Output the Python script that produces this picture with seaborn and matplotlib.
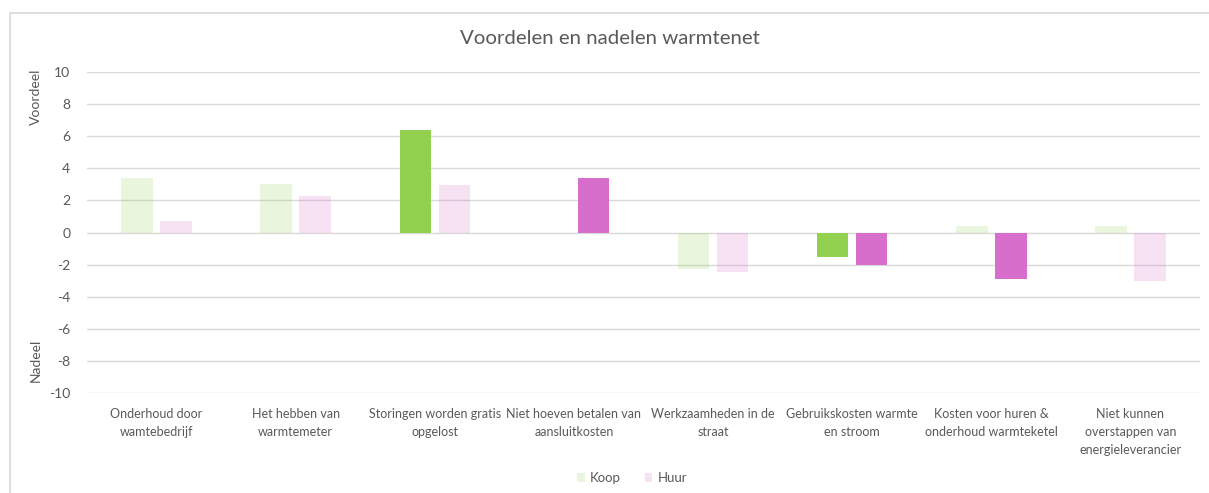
import numpy as np
import pandas as pd
import matplotlib
matplotlib.use("Agg")
import matplotlib.pyplot as plt
from matplotlib.patches import Patch
from matplotlib.lines import Line2D
import seaborn as sns

# ---- data ----
categories = [
    "Onderhoud door wamtebedrijf",
    "Het hebben van warmtemeter",
    "Storingen worden gratis opgelost",
    "Niet hoeven betalen van aansluitkosten",
    "Werkzaamheden in de straat",
    "Gebruikskosten warmte en stroom",
    "Kosten voor huren & onderhoud warmteketel",
    "Niet kunnen overstappen van energieleverancier",
]
tick_labels = [
    "Onderhoud door\nwamtebedrijf",
    "Het hebben van\nwarmtemeter",
    "Storingen worden gratis\nopgelost",
    "Niet hoeven betalen van\naansluitkosten",
    "Werkzaamheden in de\nstraat",
    "Gebruikskosten warmte\nen stroom",
    "Kosten voor huren &\nonderhoud warmteketel",
    "Niet kunnen\noverstappen van\nenergieleverancier",
]
koop = [3.4, 3.0, 6.4, 0.0, -2.3, -1.55, 0.4, 0.4]
huur = [0.7, 2.3, 2.95, 3.4, -2.45, -2.0, -2.9, -3.05]
koop_highlight = [False, False, True, False, False, True, False, False]
huur_highlight = [False, False, False, True, False, True, True, False]
series = ["Koop", "Huur"]
y_ticks = [-10, -8, -6, -4, -2, 0, 2, 4, 6, 8, 10]

title = "Voordelen en nadelen warmtenet"

# ---- styling ----
GREEN = "#92D050"
PINK = "#D86ECC"
FADE = 0.2
TXT = "#595959"
GRID = "#D9D9D9"

sns.set_theme(style="white")
plt.rcParams["font.family"] = ["Lato", "DejaVu Sans"]

df = pd.DataFrame({
    "cat": categories * 2,
    "val": koop + huur,
    "series": [series[0]] * len(categories) + [series[1]] * len(categories),
})

fig = plt.figure(figsize=(12.09, 4.93), dpi=100)
ax = fig.add_axes([87 / 1209, 1 - 393 / 493, (1200 - 87) / 1209, (393 - 72) / 493])

sns.barplot(data=df, x="cat", y="val", hue="series", hue_order=series,
            order=categories, palette=[GREEN, PINK], width=0.56, gap=0.19,
            errorbar=None, ax=ax, legend=False, zorder=3, linewidth=0)

for cont, col, hl in zip(ax.containers, [GREEN, PINK], [koop_highlight, huur_highlight]):
    for bar, h in zip(cont, hl):
        bar.set_facecolor(col)
        bar.set_alpha(1.0 if h else FADE)
        bar.set_edgecolor("none")

ax.set_ylim(-10, 10)
ax.set_yticks(y_ticks)
ax.set_yticklabels([str(t) for t in y_ticks])
ax.set_xlim(-0.5, len(categories) - 0.5)
ax.set_xticks(range(len(categories)))
ax.set_xticklabels(tick_labels)
ax.set_xlabel("")
ax.set_ylabel("")
for s in ax.spines.values():
    s.set_visible(False)
ax.grid(False)
for t in y_ticks:
    ax.axhline(t, color=GRID, lw=1.0, zorder=1)
ax.tick_params(axis="y", length=0, pad=12, labelsize=10, labelcolor=TXT)
ax.tick_params(axis="x", length=0, pad=11, labelsize=9, labelcolor=TXT)
for lab in ax.get_xticklabels():
    lab.set_linespacing(1.6)
    lab.set_verticalalignment("top")

fig.text(610 / 1209, 1 - 38 / 493, title, ha="center", va="center",
         fontsize=14.7, color=TXT)
fig.text(36 / 1209, 1 - 97 / 493, "Voordeel", rotation=90, ha="center",
         va="center", fontsize=10, color=TXT)
fig.text(36 / 1209, 1 - 360 / 493, "Nadeel", rotation=90, ha="center",
         va="center", fontsize=10, color=TXT)

handles = [Patch(facecolor=GREEN, alpha=FADE, edgecolor="none"),
           Patch(facecolor=PINK, alpha=FADE, edgecolor="none")]
fig.legend(handles, series, loc="center", bbox_to_anchor=(632 / 1209, 1 - 478 / 493),
           ncol=2, frameon=False, fontsize=9.5, labelcolor=TXT,
           handlelength=0.6, handleheight=0.6, handletextpad=0.4, columnspacing=1.8)

# chart frame (top and left edges visible)
fig.add_artist(Line2D([10 / 1209, 1.0], [1 - 13 / 493, 1 - 13 / 493],
                      transform=fig.transFigure, color="#D9D9D9", lw=1.2))
fig.add_artist(Line2D([10 / 1209, 10 / 1209], [0, 1 - 13 / 493],
                      transform=fig.transFigure, color="#D9D9D9", lw=1.2))

fig.savefig("out.png", dpi=100, facecolor="white")
